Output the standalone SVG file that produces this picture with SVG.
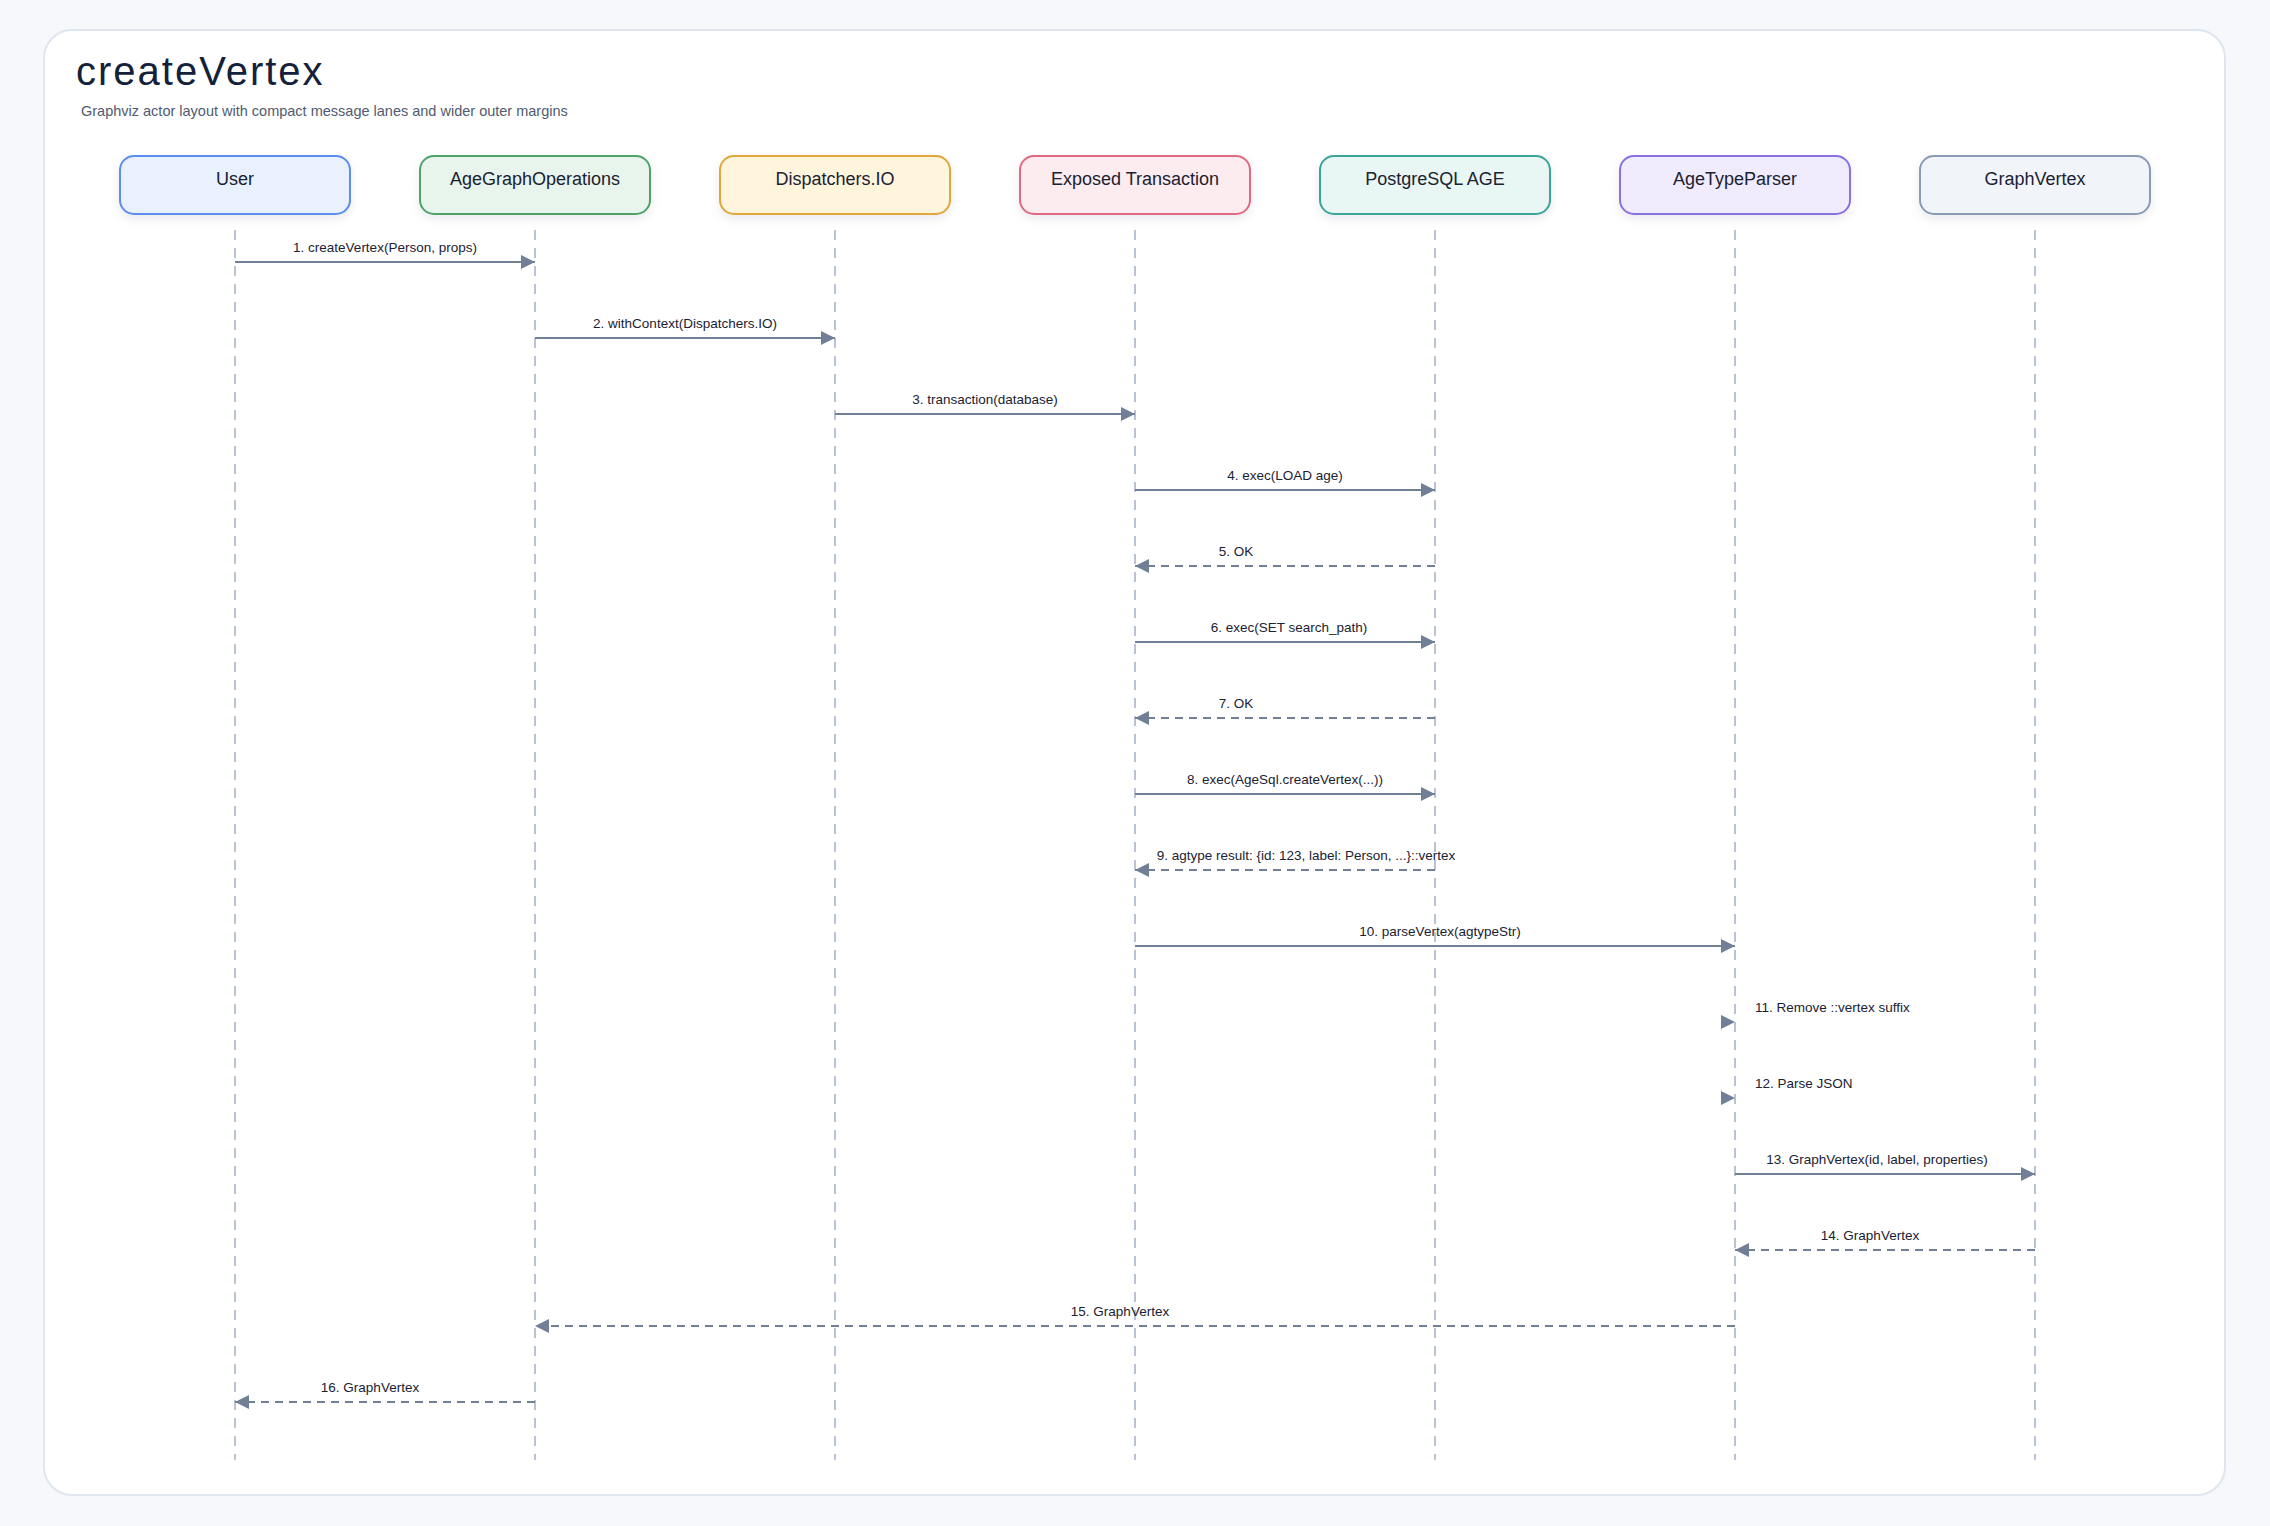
<svg xmlns="http://www.w3.org/2000/svg" width="2270" height="1526" viewBox="0 0 2270 1526">
<style>
.title{font-family:"Liberation Sans",Arial,sans-serif;font-size:40px;fill:#15213a;letter-spacing:2px}
.sub{font-family:"Liberation Sans",Arial,sans-serif;font-size:14.5px;fill:#4f5b70}
.actor rect{stroke-width:2}
.actor text{font-family:"Liberation Sans",Arial,sans-serif;font-size:18px;fill:#1a2233;text-anchor:middle}
.life{stroke:#b9c3d5;stroke-width:2;stroke-dasharray:10 8;fill:none}
.msg{stroke:#718096;stroke-width:2;fill:none}
.ret{stroke:#718096;stroke-width:2;fill:none;stroke-dasharray:8 6}
.lbl{font-family:"Liberation Sans",Arial,sans-serif;font-size:13.5px;fill:#1a2233;text-anchor:middle}
.lbls{font-family:"Liberation Sans",Arial,sans-serif;font-size:13.5px;fill:#1a2233}
.head{fill:#718096}
</style>
<defs>
<filter id="sh" x="-20%" y="-30%" width="140%" height="170%">
<feDropShadow dx="0" dy="4" stdDeviation="5" flood-color="#1a2233" flood-opacity="0.08"/>
</filter>
<marker id="ah" viewBox="0 0 14 14" refX="14" refY="7" markerWidth="14" markerHeight="14" markerUnits="userSpaceOnUse" orient="auto">
<path d="M0,0 L14,7 L0,14 z" fill="#718096"/>
</marker>
</defs>
<rect x="0" y="0" width="2270" height="1526" fill="#f6f8fb"/>
<rect x="44" y="30" width="2181" height="1465" rx="28" fill="#ffffff" stroke="#dfe6ef" stroke-width="2"/>
<text class="title" x="76" y="85">createVertex</text>
<text class="sub" x="81" y="116">Graphviz actor layout with compact message lanes and wider outer margins</text>

<g id="lifelines">
<line class="life" x1="235" y1="230" x2="235" y2="1460"/>
<line class="life" x1="535" y1="230" x2="535" y2="1460"/>
<line class="life" x1="835" y1="230" x2="835" y2="1460"/>
<line class="life" x1="1135" y1="230" x2="1135" y2="1460"/>
<line class="life" x1="1435" y1="230" x2="1435" y2="1460"/>
<line class="life" x1="1735" y1="230" x2="1735" y2="1460"/>
<line class="life" x1="2035" y1="230" x2="2035" y2="1460"/>
</g>

<g id="actor-user" class="actor"><rect x="120" y="156" width="230" height="58" rx="14" fill="#e8f1fd" stroke="#5b8def" filter="url(#sh)"/><text x="235" y="185">User</text></g>
<g id="actor-agegraphoperations" class="actor"><rect x="420" y="156" width="230" height="58" rx="14" fill="#e8f5ec" stroke="#4fa36b" filter="url(#sh)"/><text x="535" y="185">AgeGraphOperations</text></g>
<g id="actor-dispatchers" class="actor"><rect x="720" y="156" width="230" height="58" rx="14" fill="#fff4dc" stroke="#e0a73a" filter="url(#sh)"/><text x="835" y="185">Dispatchers.IO</text></g>
<g id="actor-transaction" class="actor"><rect x="1020" y="156" width="230" height="58" rx="14" fill="#fdecef" stroke="#e06b80" filter="url(#sh)"/><text x="1135" y="185">Exposed Transaction</text></g>
<g id="actor-postgres" class="actor"><rect x="1320" y="156" width="230" height="58" rx="14" fill="#e8f6f4" stroke="#3aa59a" filter="url(#sh)"/><text x="1435" y="185">PostgreSQL AGE</text></g>
<g id="actor-agetypeparser" class="actor"><rect x="1620" y="156" width="230" height="58" rx="14" fill="#f0ebfd" stroke="#8b6fe0" filter="url(#sh)"/><text x="1735" y="185">AgeTypeParser</text></g>
<g id="actor-graphvertex" class="actor"><rect x="1920" y="156" width="230" height="58" rx="14" fill="#f1f5f9" stroke="#8a9bb5" filter="url(#sh)"/><text x="2035" y="185">GraphVertex</text></g>

<g id="connectors">
<line class="msg" x1="235" y1="262" x2="535" y2="262" marker-end="url(#ah)"/>
<text class="lbl" x="385" y="252">1. createVertex(Person, props)</text>
<line class="msg" x1="535" y1="338" x2="835" y2="338" marker-end="url(#ah)"/>
<text class="lbl" x="685" y="328">2. withContext(Dispatchers.IO)</text>
<line class="msg" x1="835" y1="414" x2="1135" y2="414" marker-end="url(#ah)"/>
<text class="lbl" x="985" y="404">3. transaction(database)</text>
<line class="msg" x1="1135" y1="490" x2="1435" y2="490" marker-end="url(#ah)"/>
<text class="lbl" x="1285" y="480">4. exec(LOAD age)</text>
<line class="ret" x1="1435" y1="566" x2="1135" y2="566" marker-end="url(#ah)"/>
<text class="lbl" x="1236" y="556">5. OK</text>
<line class="msg" x1="1135" y1="642" x2="1435" y2="642" marker-end="url(#ah)"/>
<text class="lbl" x="1289" y="632">6. exec(SET search_path)</text>
<line class="ret" x1="1435" y1="718" x2="1135" y2="718" marker-end="url(#ah)"/>
<text class="lbl" x="1236" y="708">7. OK</text>
<line class="msg" x1="1135" y1="794" x2="1435" y2="794" marker-end="url(#ah)"/>
<text class="lbl" x="1285" y="784">8. exec(AgeSql.createVertex(...))</text>
<line class="ret" x1="1435" y1="870" x2="1135" y2="870" marker-end="url(#ah)"/>
<text class="lbl" x="1306" y="860">9. agtype result: {id: 123, label: Person, ...}::vertex</text>
<line class="msg" x1="1135" y1="946" x2="1735" y2="946" marker-end="url(#ah)"/>
<text class="lbl" x="1440" y="936">10. parseVertex(agtypeStr)</text>
<path class="head" d="M1721,1015 L1735,1022 L1721,1029 z"/>
<text class="lbls" x="1755" y="1012">11. Remove ::vertex suffix</text>
<path class="head" d="M1721,1091 L1735,1098 L1721,1105 z"/>
<text class="lbls" x="1755" y="1088">12. Parse JSON</text>
<line class="msg" x1="1735" y1="1174" x2="2035" y2="1174" marker-end="url(#ah)"/>
<text class="lbl" x="1877" y="1164">13. GraphVertex(id, label, properties)</text>
<line class="ret" x1="2035" y1="1250" x2="1735" y2="1250" marker-end="url(#ah)"/>
<text class="lbl" x="1870" y="1240">14. GraphVertex</text>
<line class="ret" x1="1735" y1="1326" x2="535" y2="1326" marker-end="url(#ah)"/>
<text class="lbl" x="1120" y="1316">15. GraphVertex</text>
<line class="ret" x1="535" y1="1402" x2="235" y2="1402" marker-end="url(#ah)"/>
<text class="lbl" x="370" y="1392">16. GraphVertex</text>
</g>
</svg>
